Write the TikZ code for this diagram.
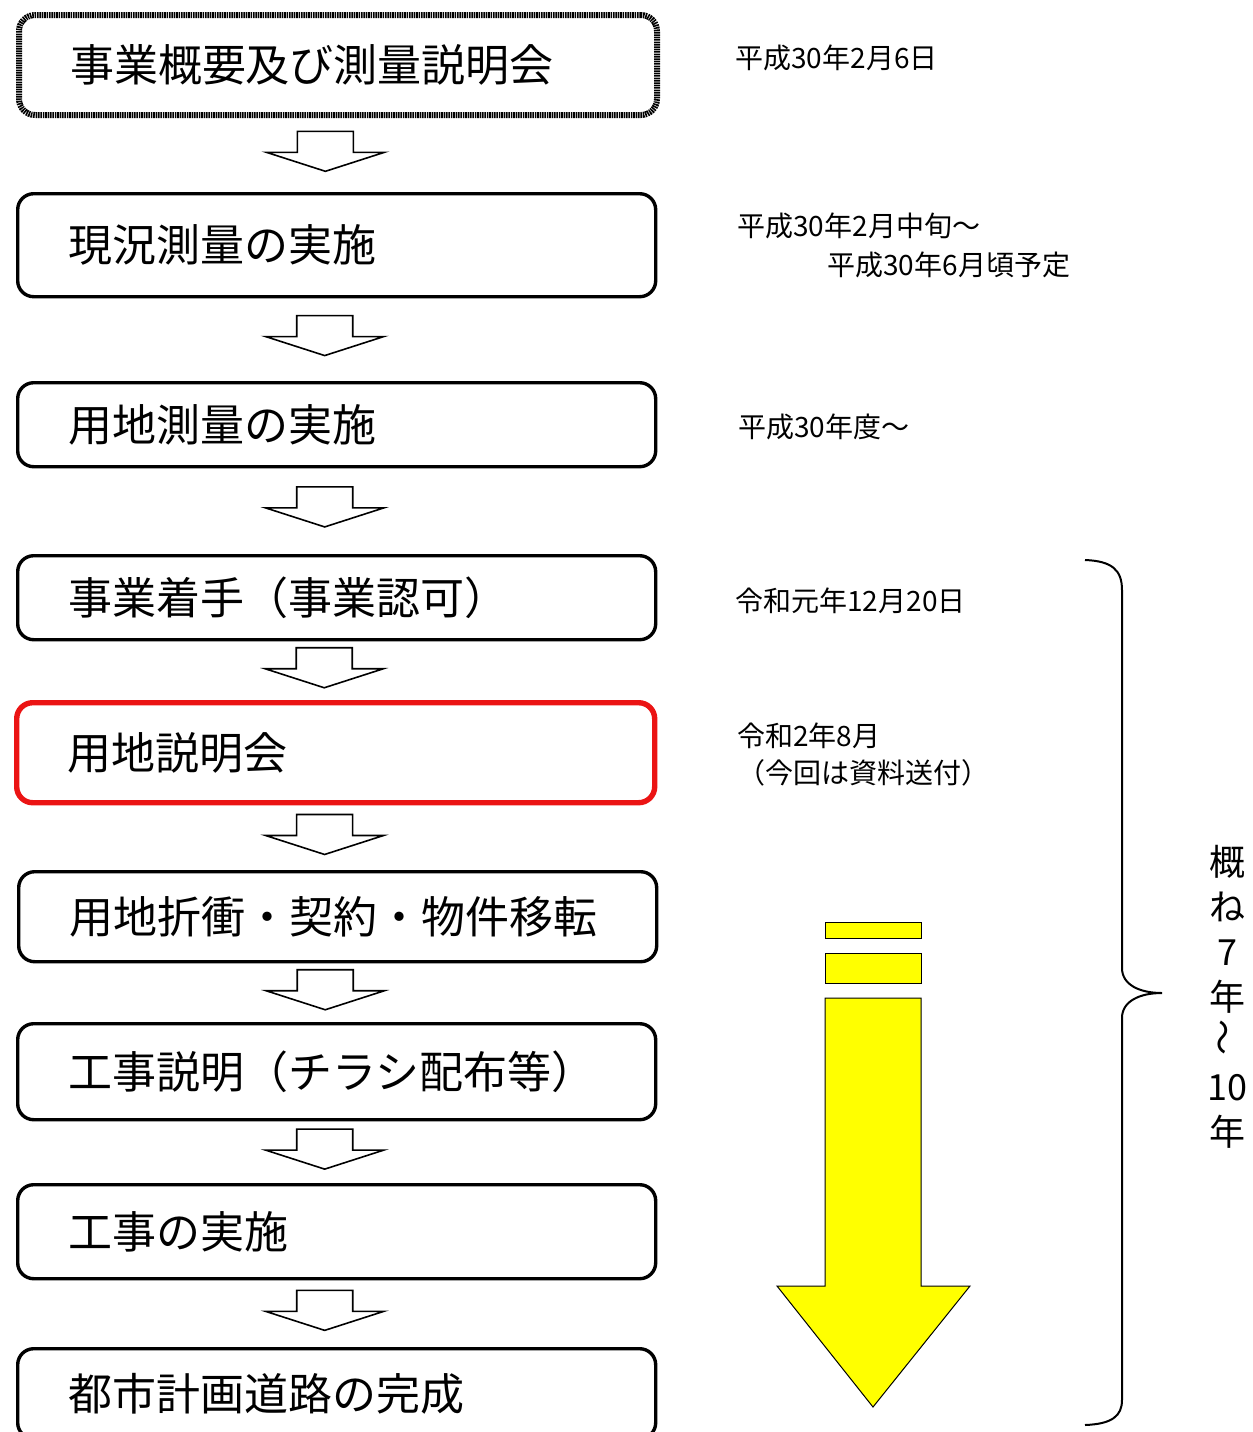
\documentclass[tikz,border=0pt]{standalone}
\usepackage{fontspec}
\setmainfont{Noto Sans CJK JP}
\usetikzlibrary{positioning, calc}
\definecolor{stepred}{RGB}{235,20,20}
\definecolor{spanyellow}{RGB}{255,255,0}

\begin{document}
\begin{tikzpicture}[x=0.5pt, y=-0.5pt,
    stepbox/.style={draw, line width=1.7pt, rounded corners=8pt, anchor=north west,
        minimum width=319pt, text width=268pt, inner xsep=25.5pt, align=left,
        font=\fontsize{22pt}{26pt}\selectfont},
    datetext/.style={anchor=west, inner sep=0pt, font=\fontsize{14pt}{17pt}\selectfont},
    hollowarrow/.style={draw, line width=0.8pt, fill=white, line join=miter}]

        % page
        \useasboundingbox (0,0) rectangle (1253,1432);
        \clip (0,0) rectangle (1253,1432);

        % Steps
        \node[stepbox, minimum height=50pt, line width=3pt, dash pattern=on 0.8pt off 0.4pt] (b1) at (16,12) {事業概要及び測量説明会};
        \node[stepbox, minimum height=51.5pt] (b2) at (16,192) {現況測量の実施};
        \node[stepbox, minimum height=42pt] (b3) at (16,381) {用地測量の実施};
        \node[stepbox, minimum height=42pt] (b4) at (16,554) {事業着手（事業認可）};
        \node[stepbox, minimum height=50pt, draw=stepred, line width=2.7pt] (b5) at (14,700) {用地説明会};
        \node[stepbox, minimum height=45pt] (b6) at (17,870) {用地折衝・契約・物件移転};
        \node[stepbox, minimum height=48pt] (b7) at (16,1022) {工事説明（チラシ配布等）};
        \node[stepbox, minimum height=47pt] (b8) at (16,1183) {工事の実施};
        \node[stepbox, minimum height=45pt] (b9) at (16,1347) {都市計画道路の完成};

        % Arrows between steps
        \foreach \u/\l in {b1/b2, b2/b3, b3/b4, b4/b5, b5/b6, b6/b7, b7/b8, b8/b9} {
            \path ($(\u.south)!0.45!(\l.north)$) coordinate (m);
            \draw[hollowarrow] (m) ++(-40,-20) -- ++(56,0) -- ++(0,21) -- ++(31,0)
                -- ++(-59,19) -- ++(-59,-19) -- ++(31,0) -- cycle;
        }

        % Dates
        \node[datetext] (d1) at (735,58) {平成30年2月6日};
        \node[datetext] (d2) at (737,226) {平成30年2月中旬～};
        \node[datetext] (d3) at (827,265) {平成30年6月頃予定};
        \node[datetext] (d4) at (738,427) {平成30年度～};
        \node[datetext] (d5) at (735,601) {令和元年12月20日};
        \node[datetext] (d6) at (737,736) {令和2年8月};
        \node[datetext] (d7) at (737,773) {（今回は資料送付）};

        % Yellow arrow
        \filldraw[fill=spanyellow, draw=black, line width=0.5pt] (825,922) rectangle (921,938);
        \filldraw[fill=spanyellow, draw=black, line width=0.5pt] (825,953) rectangle (921,983);
        \filldraw[fill=spanyellow, draw=black, line width=0.5pt]
            (825,998) -- (921,998) -- (921,1286) -- (970,1286) -- (873,1407)
            -- (777,1286) -- (825,1286) -- cycle;

        % Brace
        \draw[line width=1pt] (1085,560) .. controls (1112,561) and (1122,570) .. (1122,590)
            -- (1122,968) .. controls (1122,985) and (1140,993) .. (1162,993)
            .. controls (1140,993) and (1122,1001) .. (1122,1018)
            -- (1122,1400) .. controls (1122,1416) and (1112,1424) .. (1085,1425);
        \node[align=center, inner sep=0pt, font=\fontsize{18pt}{22.5pt}\selectfont] (span) at (1227,997)
            {概\\ね\\7\\年\\\rotatebox{90}{～}\\10\\年};

    \end{tikzpicture}
\end{document}
